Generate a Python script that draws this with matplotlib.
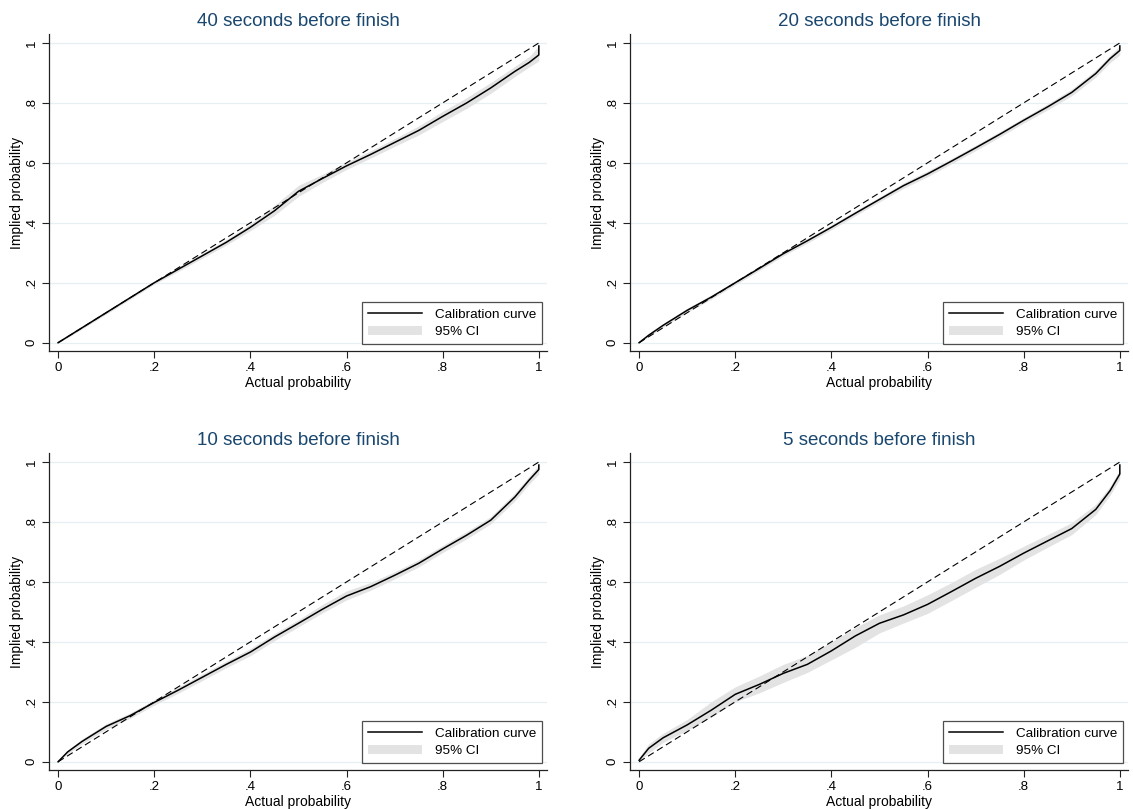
import matplotlib.pyplot as plt
import numpy as np

plt.rcParams['font.family'] = ['Liberation Sans', 'DejaVu Sans']

# actual probability grid (last point repeated: the curve goes straight up at x=1)
actual = [0, .02, .05, .1, .15, .2, .25, .3, .35, .4, .45, .5, .55, .6,
          .65, .7, .75, .8, .85, .9, .95, .98, 1.0, 1.0]

titles = ['40 seconds before finish', '20 seconds before finish',
          '10 seconds before finish', '5 seconds before finish']

# implied probability (calibration curve) per panel
curve_40 = [0, .02, .05, .1, .15, .2, .245, .29, .335, .385, .44, .505, .548, .59,
            .628, .668, .708, .755, .8, .85, .905, .935, .96, .99]
curve_20 = [0, .025, .058, .108, .152, .2, .248, .297, .34, .385, .432, .478, .524, .563,
            .606, .65, .695, .742, .787, .835, .898, .948, .975, .99]
curve_10 = [0, .033, .068, .118, .154, .198, .239, .282, .325, .366, .416, .462, .509, .553,
            .584, .622, .662, .71, .756, .806, .883, .94, .975, .99]
curve_5 = [.005, .045, .08, .123, .172, .225, .258, .295, .325, .37, .42, .462, .49, .525,
           .568, .612, .652, .696, .737, .778, .842, .905, .96, .99]

# 95% CI bounds per panel
lo_40 = [0, .017, .046, .095, .145, .195, .238, .282, .326, .374, .425, .488, .535, .578,
         .616, .655, .693, .738, .782, .832, .888, .92, .94, .94]
hi_40 = [0, .023, .054, .105, .155, .205, .252, .298, .344, .396, .458, .525, .562, .602,
         .64, .681, .723, .772, .818, .868, .922, .955, .99, 1.0]
lo_20 = [0, .02, .052, .101, .145, .193, .241, .29, .332, .377, .424, .47, .515, .554,
         .597, .641, .686, .733, .777, .824, .886, .935, .96, .96]
hi_20 = [0, .03, .064, .115, .159, .207, .255, .305, .348, .393, .44, .486, .533, .573,
         .615, .659, .704, .751, .797, .846, .91, .96, .99, 1.0]
lo_10 = [0, .027, .06, .109, .145, .189, .229, .271, .314, .354, .404, .45, .497, .54,
         .572, .61, .65, .698, .744, .794, .87, .927, .96, .96]
hi_10 = [0, .039, .076, .127, .163, .207, .249, .293, .336, .378, .428, .474, .525, .57,
         .598, .634, .674, .722, .768, .818, .896, .953, .99, 1.0]
lo_5 = [0, .03, .065, .105, .15, .2, .23, .265, .298, .34, .382, .43, .463, .495,
        .538, .582, .625, .673, .716, .758, .825, .89, .945, .945]
hi_5 = [.015, .06, .095, .141, .2, .25, .286, .325, .355, .4, .448, .49, .52, .557,
        .598, .642, .679, .719, .758, .798, .859, .92, .975, 1.0]

curves = [curve_40, curve_20, curve_10, curve_5]
lows = [lo_40, lo_20, lo_10, lo_5]
highs = [hi_40, hi_20, hi_10, hi_5]

ticks = [0, .2, .4, .6, .8, 1]
tick_labels = ['0', '.2', '.4', '.6', '.8', '1']

fig = plt.figure(figsize=(11.33, 8.09), dpi=100)
positions = [[0.0432, 0.566, 0.44, 0.392], [0.556, 0.566, 0.44, 0.392],
             [0.0432, 0.048, 0.44, 0.392], [0.556, 0.048, 0.44, 0.392]]

for i in range(4):
    ax = fig.add_axes(positions[i])
    ax.fill_between(actual, lows[i], highs[i], color='#e3e3e3', lw=0, zorder=1,
                    label='95% CI')
    ax.plot([0, 1], [0, 1], color='black', lw=0.8, ls=(0, (6, 3.5)), zorder=2)
    ax.plot(actual, curves[i], color='black', lw=1.1, zorder=3,
            label='Calibration curve')

    ax.set_xlim(-0.019, 1.018)
    ax.set_ylim(-0.028, 1.03)
    ax.set_xticks(ticks)
    ax.set_xticklabels(tick_labels, fontsize=9.5)
    ax.set_yticks(ticks)
    ax.set_yticklabels(tick_labels, fontsize=9.5, rotation=90, va='center')
    ax.tick_params(direction='out', length=5, width=0.8, color='#222222', pad=3)
    ax.grid(axis='y', color='#e6eff1', lw=0.9)
    ax.set_axisbelow(True)
    for s in ['top', 'right']:
        ax.spines[s].set_visible(False)
    for s in ['left', 'bottom']:
        ax.spines[s].set_color('#222222')
        ax.spines[s].set_linewidth(0.9)

    ax.set_xlabel('Actual probability', fontsize=10, labelpad=1)
    ax.set_ylabel('Implied probability', fontsize=10, labelpad=1)
    ax.set_title(titles[i], fontsize=13.5, color='#1a476f', pad=6)

    handles, labels = ax.get_legend_handles_labels()
    leg = ax.legend(handles[::-1], labels[::-1], loc='lower right',
                    bbox_to_anchor=(0.99, 0.022), borderaxespad=0, fontsize=9.7,
                    frameon=True, fancybox=False, edgecolor='#222222',
                    handlelength=4.0, borderpad=0.45, labelspacing=0.35,
                    handletextpad=1.0)
    leg.get_frame().set_linewidth(0.9)

fig.savefig('out.png', dpi=100, facecolor='white')
